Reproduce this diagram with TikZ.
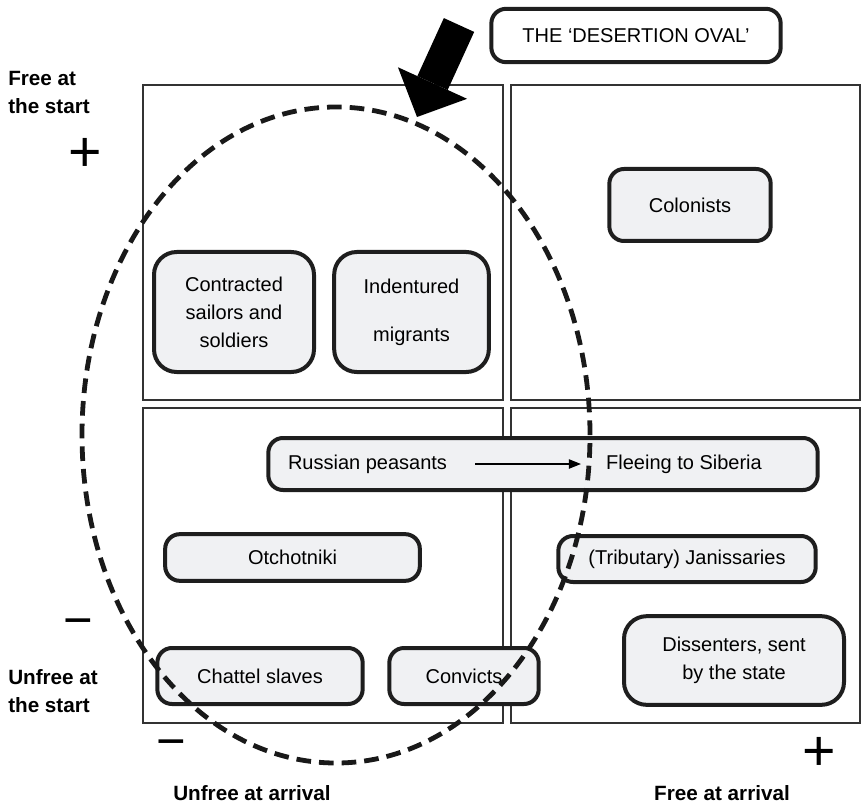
\documentclass[tikz,border=0pt]{standalone}
\usepackage{fontspec}
\setmainfont{Liberation Sans}
\usepackage{xcolor}
\usetikzlibrary{arrows.meta,positioning}
\definecolor{boxfill}{RGB}{240,241,243}
\definecolor{boxline}{RGB}{30,30,30}
\tikzset{
    block/.style={draw=boxline,line width=3pt,fill=boxfill,rounded corners=11pt,align=center,inner sep=2pt},
    tall/.style={rounded corners=17pt},
    item/.style={inner sep=0pt},
    quad/.style={draw=black!80,line width=1.4pt},
    axis/.style={font=\fontsize{15.5}{21}\selectfont\bfseries,inner sep=0pt},
    sign/.style={font=\fontsize{43}{43}\selectfont,inner sep=0pt},
    arrow/.style={-{Triangle[length=9pt,width=7pt]}, line width=0.9pt},
    bigarrow/.style={-{Triangle[length=28pt,width=57pt,line width=0pt]}, line width=25pt},
    oval/.style={draw=black!90,line width=3.6pt,dash pattern=on 11pt off 6pt}
}

\begin{document}
\begin{tikzpicture}[x=0.75pt,y=-0.75pt,font=\fontsize{15}{21}\selectfont]
  \useasboundingbox (0,0) rectangle (862,805);
  \draw[quad] (143,85) rectangle (503,400);
  \draw[quad] (511,85) rectangle (860,400);
  \draw[quad] (143,408) rectangle (503,723);
  \draw[quad] (511,408) rectangle (860,723);

  \node[block,tall,minimum width=120pt,minimum height=90pt] (N1) at (234,312) {Contracted\\sailors and\\soldiers};
  \node[block,tall,minimum width=116pt,minimum height=90pt] (N2) at (411.5,312) {Indentured\\[15pt]migrants};
  \node[block,minimum width=121pt,minimum height=54pt] (N3) at (690,205) {Colonists};
  \node[block,minimum width=412pt,minimum height=39pt] (N4) at (543,464) {};
  \node[item] (N5) at (367.5,464) {Russian peasants};
  \node[item] (N6) at (684,464) {Fleeing to Siberia};
  \node[block,minimum width=191pt,minimum height=35pt] (N7) at (292.5,557.5) {Otchotniki};
  \node[block,minimum width=193pt,minimum height=34.5pt] (N8) at (687,559) {(Tributary) Janissaries};
  \node[block,minimum width=154pt,minimum height=42pt] (N9) at (260,676) {Chattel slaves};
  \node[block,minimum width=112pt,minimum height=42pt] (N10) at (464,676) {Convicts};
  \node[block,tall,minimum width=165pt,minimum height=66.5pt] (N11) at (734,660.5) {Dissenters, sent\\by the state};
  \draw[arrow,shorten <=21pt,shorten >=18.75pt] (N5) -- (N6);

  \node[axis,anchor=west,align=left] (L1) at (8,92) {Free at\\the start};
  \node[axis,anchor=west,align=left] (L2) at (8,691) {Unfree at\\the start};
  \node[axis,anchor=base] (L3) at (252,800) {Unfree at arrival};
  \node[axis,anchor=base] (L4) at (722,800) {Free at arrival};
  \node[sign] (S1) at (85,155) {+};
  \node[sign,font=\fontsize{38}{38}\selectfont] (S2) at (78,628) {−};
  \node[sign,font=\fontsize{38}{38}\selectfont] (S3) at (171,749) {−};
  \node[sign] (S4) at (819,754) {+};

  \draw[oval] (336,435) ellipse [x radius=190.5pt,y radius=246pt];

  \node[block,fill=white,minimum width=217pt,minimum height=40pt] (T) at (636,35.5) {THE ‘DESERTION OVAL’};
  \coordinate (A1) at (459,25);
  \coordinate (A2) at (417,117);
  \draw[bigarrow] (A1) -- (A2);
\end{tikzpicture}
\end{document}
